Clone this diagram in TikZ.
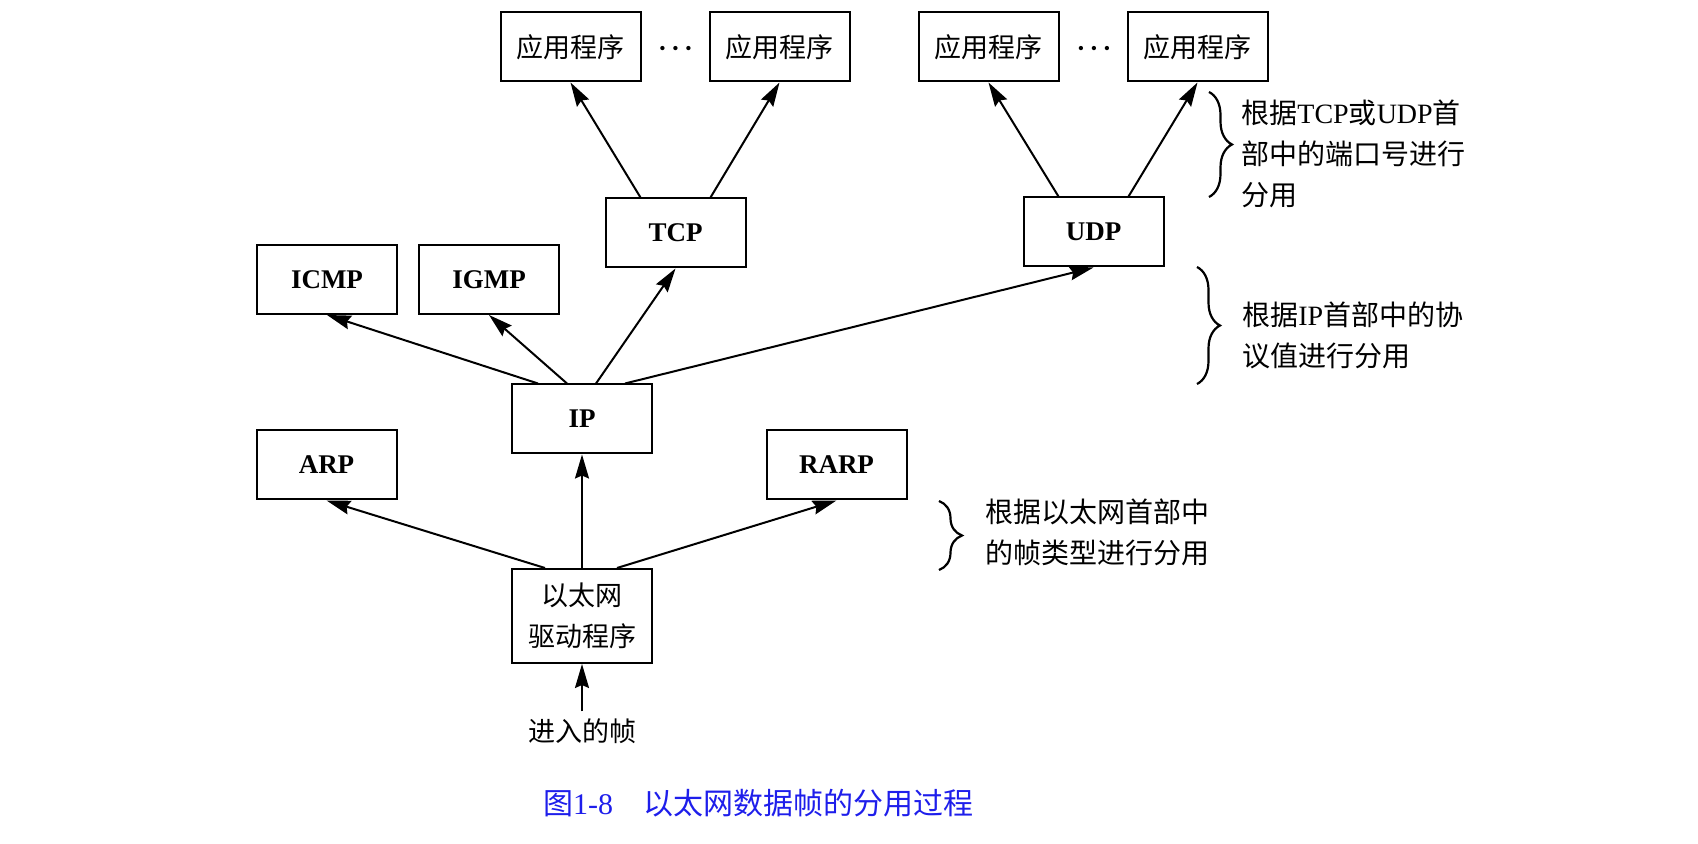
\documentclass[tikz,border=0pt]{standalone}
\usepackage{fontspec}
\setmainfont{Liberation Serif}
\newfontfamily\cjk{Noto Sans CJK SC}
\usepackage{tikz}
\usetikzlibrary{arrows.meta, positioning, decorations.pathreplacing}
\definecolor{capblue}{RGB}{30,30,235}

\begin{document}
\begin{tikzpicture}[x=0.5pt, y=-0.5pt,
    protobox/.style={draw, line width=1pt, minimum width=70pt, minimum height=34.5pt,
        inner sep=0pt, font=\fontsize{13.5}{15}\selectfont\bfseries},
    appbox/.style={protobox, align=center, font=\cjk\fontsize{13.5}{20.5}\selectfont},
    notetext/.style={anchor=west, align=left, inner sep=0pt, font=\cjk\fontsize{14}{20.5}\selectfont},
    dotrow/.style={font=\fontsize{9}{10}\selectfont},
    uparrow/.style={line width=1pt, -{Stealth[length=12pt, width=7pt, inset=1.5pt]}},
    bracefig/.style={line width=1.1pt, decorate, decoration={brace, amplitude=11.5pt}}]
    \useasboundingbox (0,0) rectangle (1698,844);

    % Application layer
    \node[appbox] (app1) at (570.5,47) {应用程序};
    \node[appbox] (app2) at (779.5,47) {应用程序};
    \node[appbox] (app3) at (988.5,47) {应用程序};
    \node[appbox] (app4) at (1197.5,47) {应用程序};
    \node[dotrow] (dotsA) at (675.5,50) {\textbullet\hspace{3.4pt}\textbullet\hspace{3.4pt}\textbullet};
    \node[dotrow] (dotsB) at (1094,50) {\textbullet\hspace{3.4pt}\textbullet\hspace{3.4pt}\textbullet};

    % Transport layer
    \node[protobox] (tcp) at (675.5,233) {TCP};
    \node[protobox] (udp) at (1093.5,232) {UDP};

    % Network layer
    \node[protobox] (icmp) at (327,279.5) {ICMP};
    \node[protobox] (igmp) at (489,279.5) {IGMP};
    \node[protobox] (ip) at (582,419) {IP};
    \node[protobox] (arp) at (326.5,465) {ARP};
    \node[protobox] (rarp) at (836.5,465) {RARP};

    % Link layer
    \node[appbox, minimum height=47pt] (drv) at (582,616) {以太网\\驱动程序};
    \node[font=\cjk\fontsize{13.5}{16}\selectfont] (frame) at (582,731) {进入的帧};

    % Demultiplexing arrows
    \draw[uparrow] (frame.north) -- (drv.south);
    \draw[uparrow] ([xshift=-18.5pt]drv.north) -- (arp.south);
    \draw[uparrow] (drv.north) -- (ip.south);
    \draw[uparrow] ([xshift=17.5pt]drv.north) -- (rarp.south);
    \draw[uparrow] ([xshift=-22pt]ip.north) -- (icmp.south);
    \draw[uparrow] ([xshift=-7.5pt]ip.north) -- (igmp.south);
    \draw[uparrow] ([xshift=7pt]ip.north) -- (tcp.south);
    \draw[uparrow] ([xshift=21.5pt]ip.north) -- (udp.south);
    \draw[uparrow] ([xshift=-17.5pt]tcp.north) -- (app1.south);
    \draw[uparrow] ([xshift=17.5pt]tcp.north) -- (app2.south);
    \draw[uparrow] ([xshift=-17.5pt]udp.north) -- (app3.south);
    \draw[uparrow] ([xshift=17.5pt]udp.north) -- (app4.south);

    % Braces and notes
    \draw[bracefig] (1209,92) -- (1209,197);
    \node[notetext] (note1) at (1241,154) {根据{\rmfamily TCP}或{\rmfamily UDP}首\\部中的端口号进行\\分用};
    \draw[bracefig] (1197,267) -- (1197,384);
    \node[notetext] (note2) at (1242,335) {根据{\rmfamily IP}首部中的协\\议值进行分用};
    \draw[bracefig] (939,501) -- (939,570);
    \node[notetext] (note3) at (985,532) {根据以太网首部中\\的帧类型进行分用};

    % Caption
    \node[font=\cjk\fontsize{15}{18}\selectfont, text=capblue] (caption) at (758,803)
        {图{\rmfamily 1-8}\quad 以太网数据帧的分用过程};
\end{tikzpicture}
\end{document}
